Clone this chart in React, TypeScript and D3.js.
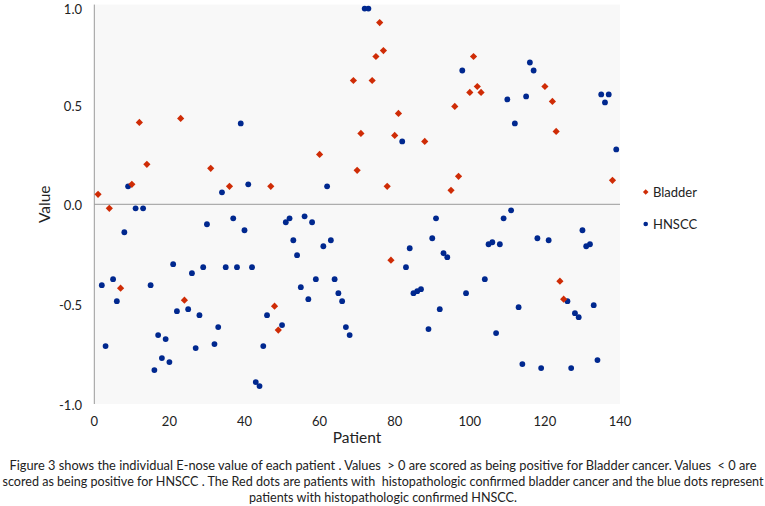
import React from "react";
import * as d3 from "d3";

const bladderPatients = [1, 4, 7, 10, 12, 14, 23, 24, 31, 36, 47, 48, 49, 60, 69, 70, 71, 74, 75, 76, 77, 78, 79, 80, 81, 88, 95, 96, 97, 100, 101, 102, 103, 120, 122, 123, 124, 125, 138];
const bladderValues = [0.05, -0.02, -0.42, 0.1, 0.41, 0.2, 0.43, -0.48, 0.18, 0.09, 0.09, -0.51, -0.63, 0.25, 0.62, 0.17, 0.355, 0.62, 0.74, 0.91, 0.77, 0.09, -0.28, 0.345, 0.455, 0.315, 0.07, 0.49, 0.14, 0.56, 0.74, 0.59, 0.56, 0.59, 0.515, 0.365, -0.385, -0.475, 0.12];

const hnsccPatients = [2, 3, 5, 6, 8, 9, 11, 13, 15, 16, 17, 18, 19, 20, 21, 22, 25, 26, 27, 28, 29, 30, 32, 33, 34, 35, 37, 38, 39, 40, 41, 42, 43, 44, 45, 46, 50, 51, 52, 53, 54, 55, 56, 57, 58, 59, 61, 62, 63, 64, 65, 66, 67, 68, 72, 73, 82, 83, 84, 85, 86, 87, 89, 90, 91, 92, 93, 94, 98, 99, 104, 105, 106, 107, 108, 109, 110, 111, 112, 113, 114, 115, 116, 117, 118, 119, 121, 126, 127, 128, 129, 130, 131, 132, 133, 134, 135, 136, 137, 139];
const hnsccValues = [-0.405, -0.71, -0.375, -0.485, -0.14, 0.09, -0.02, -0.02, -0.405, -0.83, -0.655, -0.77, -0.675, -0.79, -0.3, -0.535, -0.525, -0.345, -0.72, -0.555, -0.315, -0.1, -0.7, -0.615, 0.06, -0.315, -0.07, -0.315, 0.405, -0.13, 0.1, -0.315, -0.89, -0.91, -0.71, -0.555, -0.605, -0.09, -0.07, -0.18, -0.255, -0.415, -0.06, -0.475, -0.09, -0.375, -0.21, 0.09, -0.18, -0.375, -0.445, -0.485, -0.615, -0.655, 0.98, 0.98, 0.315, -0.315, -0.22, -0.445, -0.435, -0.425, -0.625, -0.17, -0.07, -0.525, -0.245, -0.265, 0.67, -0.445, -0.375, -0.2, -0.19, -0.645, -0.2, -0.07, 0.525, -0.03, 0.405, -0.515, -0.8, 0.54, 0.71, 0.67, -0.17, -0.82, -0.18, -0.485, -0.82, -0.545, -0.565, -0.13, -0.21, -0.2, -0.505, -0.78, 0.55, 0.51, 0.55, 0.275];

const xTicks = [0, 20, 40, 60, 80, 100, 120, 140];
const yTicks = [1.0, 0.5, 0.0, -0.5, -1.0];
const seriesNames = ["Bladder", "HNSCC"];
const captionLines = [
  "Figure 3 shows the individual E-nose value of each patient . Values  > 0 are scored as being positive for Bladder cancer. Values  < 0 are",
  "scored as being positive for HNSCC . The Red dots are patients with  histopathologic confirmed bladder cancer and the blue dots represent",
  "patients with histopathologic confirmed HNSCC.",
];
const captionWidths = [747, 761, 268];

const RED = "#cf2c06";
const BLUE = "#00288f";
const FONT = "Lato, 'Open Sans', sans-serif";

export default function App() {
  const W = 765, H = 506;
  const x = d3.scaleLinear().domain([0, 140]).range([94.3, 620]);
  const y = d3.scaleLinear().domain([-1, 1]).range([404, 4.6]);
  const diamond = (cx: number, cy: number, r: number) =>
    `M${cx},${cy - r}L${cx + r},${cy}L${cx},${cy + r}L${cx - r},${cy}Z`;

  const bladder = bladderPatients.map((p, i) => ({ p, v: bladderValues[i] }));
  const hnscc = hnsccPatients.map((p, i) => ({ p, v: hnsccValues[i] }));

  return (
    <svg width={W} height={H} style={{ position: "absolute", left: 0, top: 0, background: "#fff" }} fontFamily={FONT}>
      <rect x={x(0)} y={y(1)} width={x(140) - x(0)} height={y(-1) - y(1)} fill="#f8f8f8" />
      <line x1={x(0)} x2={x(0)} y1={y(1)} y2={y(-1)} stroke="#9a9a9a" strokeWidth={1} />
      <line x1={x(0)} x2={x(140)} y1={y(0)} y2={y(0)} stroke="#9a9a9a" strokeWidth={1} />
      {yTicks.map((t) => (
        <text key={t} x={82} y={Math.max(y(t) + 1.5, 9)} dy="0.35em" textAnchor="end" fontSize={13} fill="#222">
          {t.toFixed(1)}
        </text>
      ))}
      {xTicks.map((t) => (
        <text key={t} x={x(t)} y={421} dy="0.35em" textAnchor="middle" fontSize={13} fill="#222">
          {t}
        </text>
      ))}
      <text x={357} y={438} dy="0.35em" textAnchor="middle" fontSize={15.5} fill="#222">Patient</text>
      <text transform={`translate(45,${y(0)}) rotate(-90)`} dy="0.35em" textAnchor="middle" fontSize={15.5} fill="#222">Value</text>
      {hnscc.map((d, i) => (
        <circle key={"h" + i} cx={x(d.p)} cy={y(d.v)} r={2.9} fill={BLUE} />
      ))}
      {bladder.map((d, i) => (
        <path key={"b" + i} d={diamond(x(d.p), y(d.v), 3.6)} fill={RED} />
      ))}
      <path d={diamond(645.7, 192, 2.8)} fill={RED} />
      <text x={653} y={192} dy="0.35em" fontSize={13} fill="#222">{seriesNames[0]}</text>
      <circle cx={645.7} cy={224} r={2.3} fill={BLUE} />
      <text x={653} y={224} dy="0.35em" fontSize={13} fill="#222">{seriesNames[1]}</text>
      {captionLines.map((l, i) => (
        <text key={i} x={383} y={470 + i * 16} textAnchor="middle" fontSize={12.6} fill="#222"
          textLength={captionWidths[i]} lengthAdjust="spacingAndGlyphs" style={{ whiteSpace: "pre" }}>
          {l}
        </text>
      ))}
    </svg>
  );
}
